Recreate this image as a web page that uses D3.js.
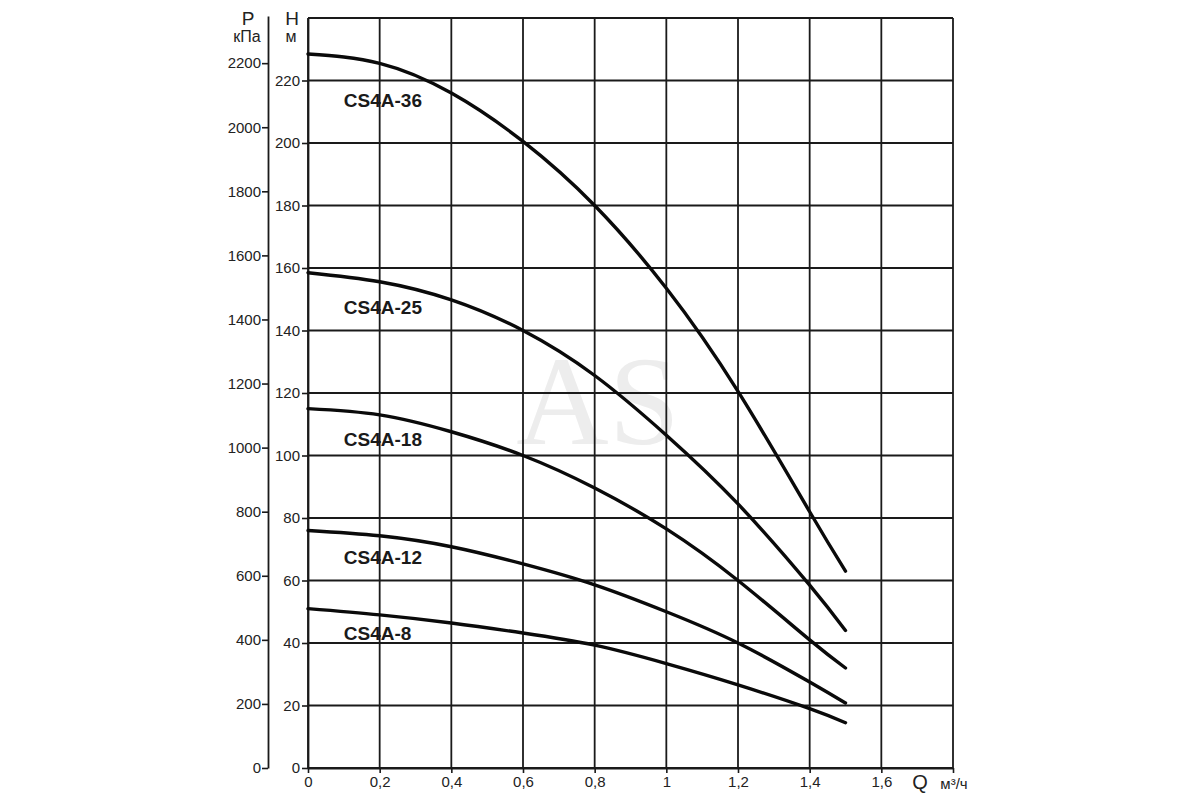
<!DOCTYPE html>
<html lang="ru">
<head>
<meta charset="UTF-8">
<title>CS4A</title>
<script src="https://cdn.jsdelivr.net/npm/d3@7"></script>
<style>
  body { margin: 0; background: #fff; }
  svg { display: block; font-family: "Liberation Sans", Arial, sans-serif; }
</style>
</head>
<body>
<svg width="1200" height="800"></svg>
<script>
// подача, м3/ч
var flow = [0, 0.2, 0.4, 0.6, 0.8, 1.0, 1.2, 1.4, 1.5];
// напор, м
var cs4a36 = [228.5, 225.5, 216, 200.5, 180, 153.5, 120.5, 82, 63];
var cs4a25 = [158.5, 155.6, 149.8, 140, 125.6, 106.5, 84.5, 58.5, 44];
var cs4a18 = [115, 113, 107.6, 100, 89.6, 76.5, 60, 41, 32];
var cs4a12 = [76, 74.3, 70.8, 65.3, 58.6, 50, 40, 27.5, 20.8];
var cs4a8 = [51, 49, 46.4, 43.2, 39.3, 33.4, 26.6, 19, 14.5];
var names = ['CS4A-36', 'CS4A-25', 'CS4A-18', 'CS4A-12', 'CS4A-8'];
var heads = [cs4a36, cs4a25, cs4a18, cs4a12, cs4a8];

var qTicks = [0, 0.2, 0.4, 0.6, 0.8, 1.0, 1.2, 1.4, 1.6, 1.8];
var qLabels = ['0', '0,2', '0,4', '0,6', '0,8', '1', '1,2', '1,4', '1,6', ''];
var hTicks = [0, 20, 40, 60, 80, 100, 120, 140, 160, 180, 200, 220];
var pTicks = [0, 200, 400, 600, 800, 1000, 1200, 1400, 1600, 1800, 2000, 2200];
var kPaPerM = 9.78;

var svg = d3.select('svg');

var x = d3.scaleLinear().domain([0, 1.8]).range([308, 953]);
var yH = d3.scaleLinear().domain([0, 240]).range([768, 18]);
var yP = d3.scaleLinear().domain([0, 240 * kPaPerM]).range([768, 16]);

// водяной знак
svg.append('text')
    .attr('x', 598).attr('y', 444)
    .attr('text-anchor', 'middle')
    .style('font-family', '"Liberation Serif", "DejaVu Serif", serif')
    .style('font-size', '128px')
    .attr('fill', '#ededed')
    .text('AS');

// сетка
var grid = svg.append('g').attr('stroke', '#1a1a1a').attr('stroke-width', 1.8);
grid.selectAll('.v').data(qTicks).enter().append('line')
    .attr('x1', function (d) { return x(d); }).attr('x2', function (d) { return x(d); })
    .attr('y1', yH(0)).attr('y2', yH(240));
grid.selectAll('.h').data(hTicks.concat([240])).enter().append('line')
    .attr('y1', function (d) { return yH(d); }).attr('y2', function (d) { return yH(d); })
    .attr('x1', x(0)).attr('x2', x(1.8));

function styleAxis(g) {
    g.select('.domain').attr('stroke', '#1a1a1a').attr('stroke-width', 1.8);
    g.selectAll('.tick line').attr('stroke', '#1a1a1a').attr('stroke-width', 1.6);
    g.selectAll('.tick text').attr('fill', '#222').style('font-size', '15px');
}

// ось H
svg.append('g')
    .attr('transform', 'translate(' + x(0) + ',0)')
    .call(d3.axisLeft(yH).tickValues(hTicks).tickSize(6).tickSizeOuter(0).tickPadding(2))
    .call(styleAxis);

// ось P
svg.append('g')
    .attr('transform', 'translate(268,0)')
    .call(d3.axisLeft(yP).tickValues(pTicks).tickSize(6).tickSizeOuter(0).tickPadding(1)
        .tickFormat(d3.format('d')))
    .call(styleAxis);

// ось Q
svg.append('g')
    .attr('transform', 'translate(0,' + yH(0) + ')')
    .call(d3.axisBottom(x).tickValues(qTicks).tickSize(5).tickSizeOuter(0).tickPadding(3)
        .tickFormat(function (d, i) { return qLabels[i]; }))
    .call(styleAxis);

// кривые
var line = d3.line()
    .x(function (d) { return x(d[0]); })
    .y(function (d) { return yH(d[1]); })
    .curve(d3.curveNatural);

heads.forEach(function (h) {
    svg.append('path')
        .datum(d3.zip(flow, h))
        .attr('fill', 'none')
        .attr('stroke', '#0a0a0a')
        .attr('stroke-width', 3.4)
        .attr('stroke-linecap', 'round')
        .attr('d', line);
});

// подписи кривых
var labelH = [213.6, 147.4, 105.1, 67.6, 43.3];
names.forEach(function (n, i) {
    svg.append('text')
        .attr('x', x(0.1)).attr('y', yH(labelH[i]))
        .attr('dy', '0.36em')
        .style('font-size', '19px').style('font-weight', 'bold')
        .attr('fill', '#1a1a1a')
        .text(n);
});

// обозначения осей
var t = svg.append('g').attr('fill', '#222').attr('text-anchor', 'middle');
t.append('text').attr('x', 248).attr('y', 25).style('font-size', '19px').text('P');
t.append('text').attr('x', 247).attr('y', 42).style('font-size', '16px').text('кПа');
t.append('text').attr('x', 292).attr('y', 25).style('font-size', '19px').text('H');
t.append('text').attr('x', 291).attr('y', 42).style('font-size', '16px').text('м');
t.append('text').attr('x', 920).attr('y', 789).style('font-size', '20px').text('Q');
t.append('text').attr('x', 954).attr('y', 789).style('font-size', '15px').text('м³/ч');
</script>
</body>
</html>
